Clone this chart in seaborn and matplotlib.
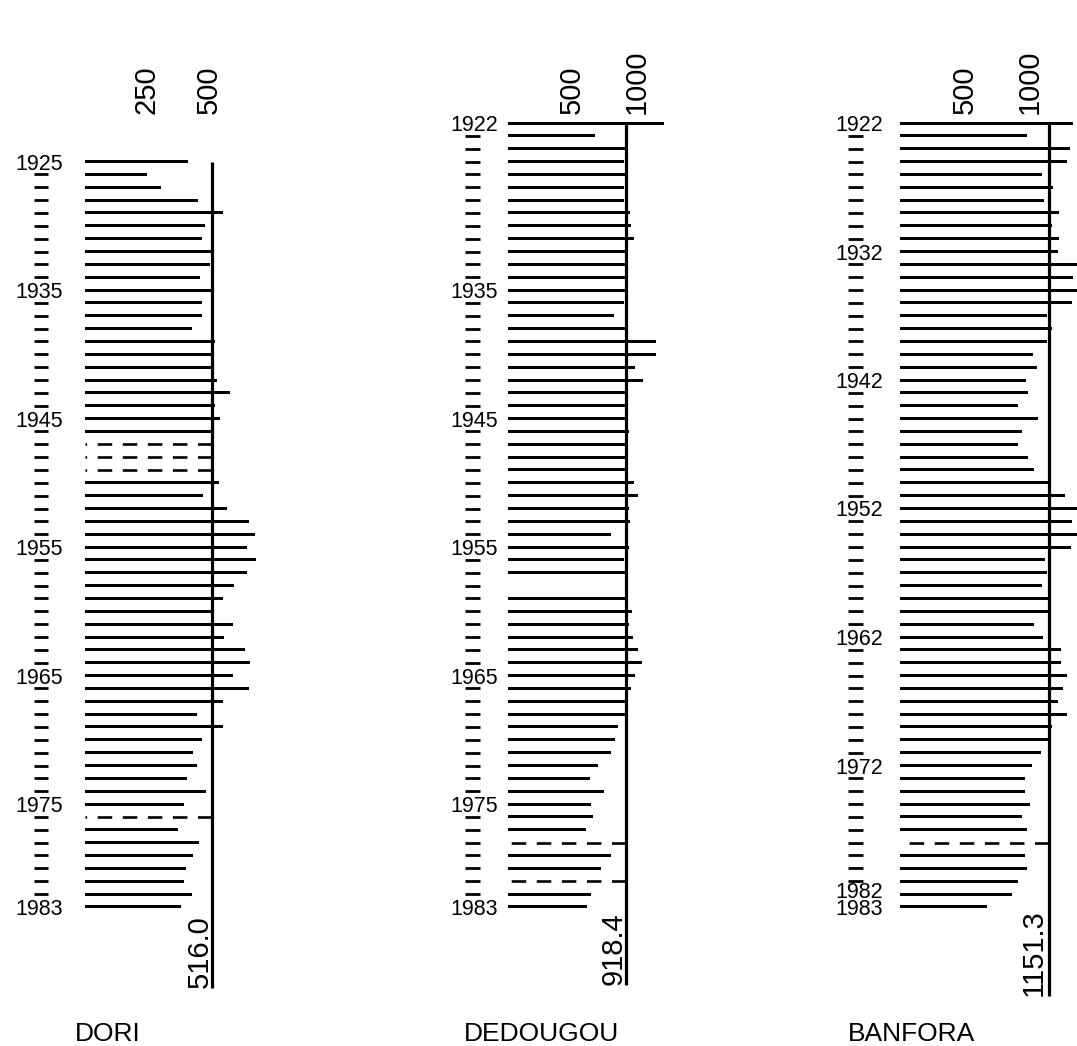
import numpy as np
import pandas as pd
import matplotlib
matplotlib.use("Agg")
import matplotlib.pyplot as plt
import seaborn as sns

nan = np.nan

# annual rainfall (mm); nan = year without value
dori_years = list(range(1925, 1984))
dori_rain = [418, 250, 309, 459, 560, 486, 472, 513, 506, 466,
             513, 475, 475, 432, 526, 520, 520, 533, 587, 526,
             547, 513, nan, nan, nan, 544, 479, 574, 665, 688,
             655, 691, 655, 603, 560, 520, 601, 563, 648, 668,
             601, 665, 557, 452, 557, 472, 439, 452, 414, 490,
             402, nan, 378, 463, 439, 409, 402, 435, 389]
dori_dashed = [1947, 1948, 1949, 1976]
dori_mean = 516.0
dori_labels = [1925, 1935, 1945, 1955, 1965, 1975, 1983]
dori_ticks = [250, 500]

dedougou_years = list(range(1922, 1984))
dedougou_rain = [1214, 680, 908, 905, 910, 900, 900, 947, 960, 983,
                 912, 908, 915, 910, 905, 825, 910, 1154, 1149, 986,
                 1051, 908, 912, 921, 942, 916, 912, 918, 978, 1014,
                 939, 947, 804, 942, 900, 916, nan, 916, 962, 939,
                 973, 1014, 1043, 991, 960, 921, 921, 856, 835, 804,
                 700, 641, 744, 643, 661, 604, nan, 799, 724, nan,
                 649, 615]
dedougou_dashed = [1978, 1981]
dedougou_mean = 918.4
dedougou_labels = [1922, 1935, 1945, 1955, 1965, 1975, 1983]
dedougou_ticks = [500, 1000]

banfora_years = list(range(1922, 1984))
banfora_rain = [1337, 977, 1312, 1291, 1093, 1183, 1111, 1229, 1175, 1227,
                1222, 1363, 1337, 1363, 1325, 1137, 1170, 1137, 1024, 1054,
                970, 990, 913, 1062, 944, 913, 990, 1037, 1160, 1273,
                1385, 1325, 1363, 1317, 1119, 1132, 1093, 1155, 1150, 1034,
                1101, 1240, 1240, 1286, 1260, 1222, 1286, 1170, 1145, 1088,
                1016, 964, 964, 1003, 939, 977, nan, 964, 977, 908,
                862, 669]
banfora_dashed = [1978]
banfora_mean = 1151.3
banfora_labels = [1922, 1932, 1942, 1952, 1962, 1972, 1982, 1983]
banfora_ticks = [500, 1000]

# page geometry in pixels
FIG_W, FIG_H = 1077, 1046
TOP, BOTTOM = 118, 1000
Y1922, PX_YEAR = 123, 12.85

sns.set_theme(style="white")
plt.rcParams['font.family'] = ['Liberation Sans', 'DejaVu Sans']
plt.rcParams.update({'text.color': 'black', 'axes.labelcolor': 'black',
                     'xtick.color': 'black', 'ytick.color': 'black'})


def add_panel(fig, left_px, right_px, px_per_mm):
    ax = fig.add_axes([left_px / FIG_W, 1 - BOTTOM / FIG_H,
                       (right_px - left_px) / FIG_W, (BOTTOM - TOP) / FIG_H])
    ax.set_facecolor('none')
    return ax, (0, (right_px - left_px) / px_per_mm)


def merge_labels(labels):
    # adjacent years (1982, 1983) share one stacked label
    pos, txt = [], []
    i = 0
    while i < len(labels):
        if i + 1 < len(labels) and labels[i + 1] - labels[i] == 1:
            pos.append(labels[i] + 0.5)
            txt.append(f"{labels[i]}\n{labels[i + 1]}")
            i += 2
        else:
            pos.append(labels[i])
            txt.append(str(labels[i]))
            i += 1
    return pos, txt


def draw_station(ax, xlim, years, rain, dashed, mean, labels, ticks, name,
                 line_end, tick_out, tick_len, label_pad, text_dx, name_x):
    df = pd.DataFrame({'year': years, 'rain': rain}).dropna()
    sns.barplot(data=df, x='rain', y='year', orient='h', native_scale=True,
                width=3 / PX_YEAR, color='black', saturation=1, errorbar=None,
                linewidth=0, ax=ax)
    for p in ax.patches:
        p.set_snap(True)
    # missing years: dashed line drawn from the mean back to zero
    ax.hlines(dashed, mean, 0, colors='black', lw=1.9,
              linestyles=(0, (5.5, 4)))
    ax.vlines(mean, years[0], line_end, colors='black', lw=2.3)
    ax.annotate(f"{mean:.1f}", xy=(mean, line_end), xytext=(text_dx, 0),
                textcoords='offset pixels', rotation=90, ha='center',
                va='bottom', fontsize=21)

    ax.set_xlim(*xlim)
    ax.set_ylim(1922 + (BOTTOM - Y1922) / PX_YEAR, 1922 + (TOP - Y1922) / PX_YEAR)
    for s in ax.spines.values():
        s.set_visible(False)
    ax.spines['left'].set_position(('outward', tick_out * 0.72))

    pos, txt = merge_labels(labels)
    ax.set_yticks(pos, txt)
    ax.set_yticks([y for y in years if y not in labels], minor=True)
    ax.tick_params(axis='y', which='major', length=0, pad=label_pad * 0.72,
                   labelsize=15.5)
    ax.tick_params(axis='y', which='minor', left=True, length=tick_len * 0.72,
                   width=2, direction='out')
    for t in ax.get_yticklabels():
        t.set_linespacing(0.75)

    ax.xaxis.tick_top()
    ax.set_xticks(ticks, [str(t) for t in ticks])
    ax.tick_params(axis='x', length=0, pad=3, labelsize=21, labelrotation=90)

    ax.set_ylabel('')
    ax.set_xlabel(name, fontsize=19)
    ax.xaxis.set_label_position('bottom')
    bbox_w = ax.get_position().width * FIG_W
    x0 = ax.get_position().x0 * FIG_W
    ax.xaxis.set_label_coords((name_x - x0) / bbox_w, -22 / (BOTTOM - TOP))


fig = plt.figure(figsize=(FIG_W / 100, FIG_H / 100), dpi=100)

ax1, lim1 = add_panel(fig, 85, 275, 0.247)
draw_station(ax1, lim1, dori_years, dori_rain, dori_dashed, dori_mean,
             dori_labels, dori_ticks, 'DORI', 1989.3,
             tick_out=37, tick_len=14, label_pad=-15, text_dx=-13, name_x=108)

ax2, lim2 = add_panel(fig, 508, 700, 0.1285)
draw_station(ax2, lim2, dedougou_years, dedougou_rain, dedougou_dashed,
             dedougou_mean, dedougou_labels, dedougou_ticks, 'DEDOUGOU', 1989.1,
             tick_out=28, tick_len=15, label_pad=-18, text_dx=-12, name_x=542)

ax3, lim3 = add_panel(fig, 900, 1077, 0.1296)
draw_station(ax3, lim3, banfora_years, banfora_rain, banfora_dashed,
             banfora_mean, banfora_labels, banfora_ticks, 'BANFORA', 1989.9,
             tick_out=37, tick_len=15, label_pad=-20, text_dx=-15, name_x=912)

fig.savefig('out.png', dpi=100)
